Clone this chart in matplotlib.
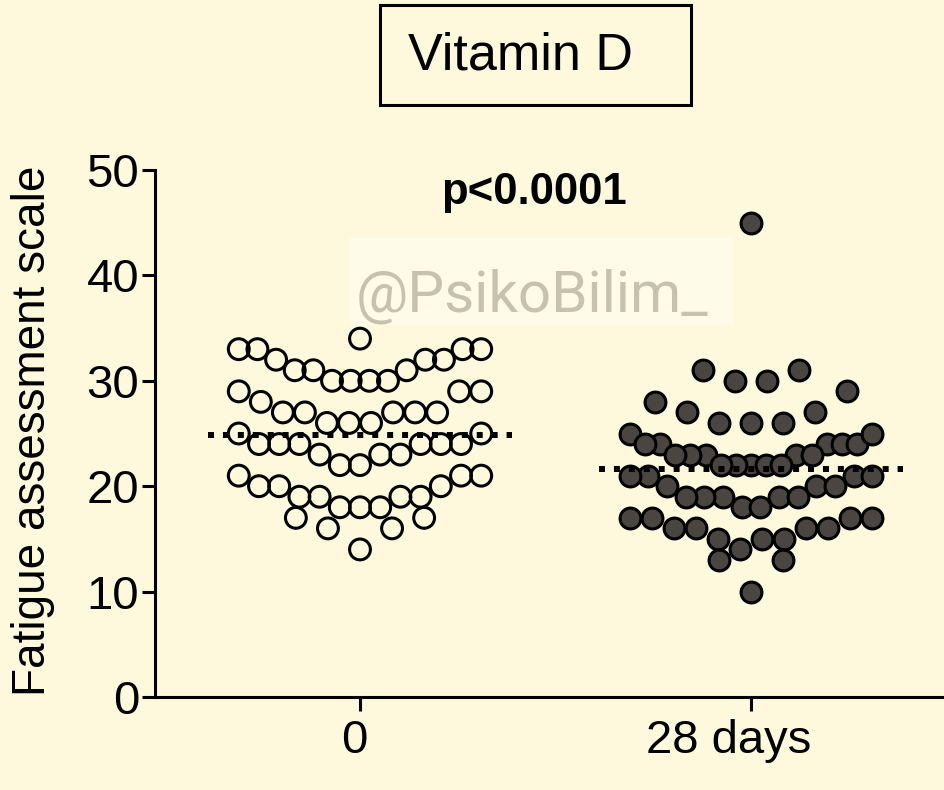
import numpy as np
import matplotlib
matplotlib.use('Agg')
import matplotlib.pyplot as plt
from matplotlib.patches import Rectangle
from matplotlib.transforms import ScaledTranslation

plt.rcParams['font.family'] = ['Liberation Sans', 'DejaVu Sans']

# Values, row by row (top to bottom)
day0 = [34,
        33, 33, 32, 31, 31, 30, 30, 30, 30, 31, 32, 32, 33, 33,
        29, 29, 27, 27, 27, 26, 26, 26, 27, 27, 28, 29,
        25, 24, 24, 24, 23, 23, 22, 22, 23, 24, 24, 24, 25,
        21, 20, 20, 19, 19, 18, 18, 18, 19, 19, 20, 21, 21,
        17, 16, 16, 17, 14]
day28 = [45,
         31, 30, 30, 31,
         29, 27, 26, 26, 26, 27, 28,
         25, 24, 24, 23, 23, 23, 22, 22, 22, 22, 22, 23, 23, 24, 24, 24, 25,
         21, 21, 20, 19, 19, 19, 18, 18, 19, 19, 20, 20, 21, 21,
         17, 17, 16, 16, 15, 15, 14, 15, 16, 16, 17, 17,
         13, 13, 10]
groups = ['0', '28 days']
y_ticks = [0, 10, 20, 30, 40, 50]

BG = '#fef9dd'
ROW_GAP = 0.082     # widest spacing between dots in a row (x units)
ROW_WIDTH = 0.62    # widest a row may get


def dot_positions(values, center):
    # Prism-like layout: rows of 4 units, lowest value in the middle
    values = np.asarray(values, dtype=float)
    xs = np.zeros(len(values))
    rows = np.floor((values - 2) / 4)
    for r in np.unique(rows):
        idx = np.where(rows == r)[0]
        idx = idx[np.argsort(values[idx], kind='stable')]
        n = len(idx)
        gap = ROW_GAP if n < 2 else min(ROW_GAP, ROW_WIDTH / (n - 1))
        slots = (np.arange(n) - (n - 1) / 2) * gap
        order = np.argsort(np.abs(slots) + 1e-9 * (slots > 0), kind='stable')
        xs[idx] = center + slots[order]
    return xs


fig = plt.figure(figsize=(9.44, 7.90), dpi=100, facecolor=BG)
ax = fig.add_axes([155 / 944, 93 / 790, 789 / 944, 527 / 790])
ax.set_facecolor('none')

x0 = dot_positions(day0, 0)
x1 = dot_positions(day28, 1)
ax.scatter(x0, day0, s=225, facecolors='none', edgecolors='black',
           linewidths=2.2, zorder=3, clip_on=False)
ax.scatter(x1, day28, s=225, facecolors='#4a4540', edgecolors='black',
           linewidths=2.2, zorder=3, clip_on=False)

for c, vals in zip([0, 1], [day0, day28]):
    m = np.mean(vals)
    ax.plot([c - 0.39, c + 0.39], [m, m], color='black', lw=4.3,
            linestyle=(0, (1, 1.5)), zorder=4, solid_capstyle='butt')

ax.set_xlim((155 - 360) / 391, (944 - 360) / 391)
ax.set_ylim(0, 50)
ax.set_yticks(y_ticks)
ax.set_xticks([0, 1])
ax.set_xticklabels(groups)

for s in ['top', 'right']:
    ax.spines[s].set_visible(False)
for s in ['left', 'bottom']:
    ax.spines[s].set_linewidth(2.2)
ax.tick_params(axis='y', length=9.5, width=2.2, labelsize=34, pad=2)
ax.tick_params(axis='x', length=10, width=2.2, labelsize=34, pad=6)

# the day labels sit a bit left of their ticks in the original
shifts = [-0.06, -0.22]
for lab, dx in zip(ax.get_xticklabels(), shifts):
    lab.set_transform(lab.get_transform() + ScaledTranslation(dx, 0, fig.dpi_scale_trans))

ax.set_ylabel('Fatigue assessment scale', fontsize=33)
ax.yaxis.set_label_coords(-100 / 789, 0.505)

# title in a box
fig.patches.append(Rectangle((380 / 944, 1 - 105 / 790), 311 / 944, 100 / 790,
                             transform=fig.transFigure, fill=False,
                             edgecolor='black', lw=2.2))
fig.text(520 / 944, 1 - 70 / 790, 'Vitamin D', fontsize=37.5,
         ha='center', va='baseline')

fig.text(534 / 944, 1 - 204 / 790, 'p<0.0001', fontsize=31.5,
         fontweight='bold', ha='center', va='baseline')

# watermark
fig.patches.append(Rectangle((350 / 944, 1 - 325 / 790), 383 / 944, 88 / 790,
                             transform=fig.transFigure, facecolor='#fffbe9',
                             edgecolor='none', zorder=0.5))
fig.text(532 / 944, 1 - 312 / 790, '@PsikoBilim_', fontsize=42,
         family=['Roboto', 'DejaVu Sans'], color='#c6c2ae',
         ha='center', va='baseline')

fig.savefig('out.png', dpi=100, facecolor=BG)
